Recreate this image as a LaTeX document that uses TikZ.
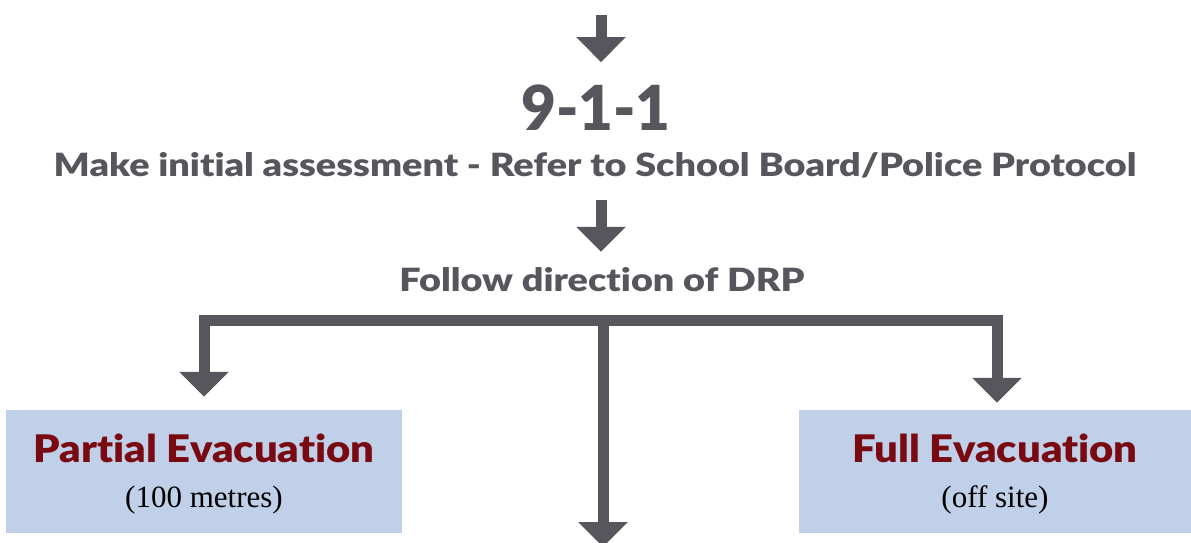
\documentclass[tikz,border=0pt]{standalone}
\usepackage{fontspec}
\setmainfont{Liberation Serif}
\newfontfamily\heavy{Lato Black}[FakeStretch=1.1, Ligatures=CommonOff]
\newfontfamily\heavywide{Lato Black}[FakeStretch=1.18, Ligatures=CommonOff]
\newfontfamily\heavynum{Lato Black}[FakeStretch=0.97]
\usetikzlibrary{arrows.meta,positioning,calc}
\definecolor{arrowgray}{HTML}{57565C}
\definecolor{boxblue}{HTML}{BFD0E8}
\definecolor{evacred}{HTML}{7A0A12}

\begin{document}
\begin{tikzpicture}[x=1pt,y=-1pt,
  arr/.style={draw=arrowgray, line width=11pt, -{Triangle[width=48pt,length=25pt]}},
  head/.style={font=\heavywide\fontsize{32}{38}\selectfont, text=arrowgray, inner sep=0pt, anchor=base},
  evacbox/.style={fill=boxblue, inner sep=0pt, align=center, minimum height=123pt}
]
  \useasboundingbox (0,0) rectangle (1191,542);

  % Headings
  \node[head, font=\heavynum\fontsize{62}{70}\selectfont] (nine) at (596,130) {9-1-1};
  \node[head] (assess) at (595,176) {Make initial assessment - Refer to School Board/Police Protocol};
  \node[head] (drp) at (602,291) {Follow direction of DRP};

  % Boxes
  \node[evacbox, minimum width=396pt] (partial) at (204,471.5)
    {{\heavy\fontsize{38}{44}\selectfont\color{evacred}\rule{0pt}{34pt}Partial Evacuation}\\[22pt]
     {\fontsize{31}{34}\selectfont (100 metres)}};
  \node[evacbox, minimum width=392pt] (full) at (995,471.5)
    {{\heavy\fontsize{38}{44}\selectfont\color{evacred}\rule{0pt}{34pt}Full Evacuation}\\[22pt]
     {\fontsize{31}{34}\selectfont (off site)}};

  % Arrows
  \coordinate (in) at (601,15);
  \coordinate (split) at (603,320.5);
  \coordinate (out) at (603,547);
  \draw[arr, shorten >=22pt] (in) -- (in |- nine.north);
  \draw[arr, shorten <=22pt, shorten >=15pt] (assess.south -| in) -- (drp.north -| in);
  \draw[arr, shorten >=13pt] (split) -| (partial.north);
  \draw[arr, shorten >=7pt] (split) -| ([xshift=2pt]full.north);
  \draw[arr] (split) -- (out);
\end{tikzpicture}
\end{document}
